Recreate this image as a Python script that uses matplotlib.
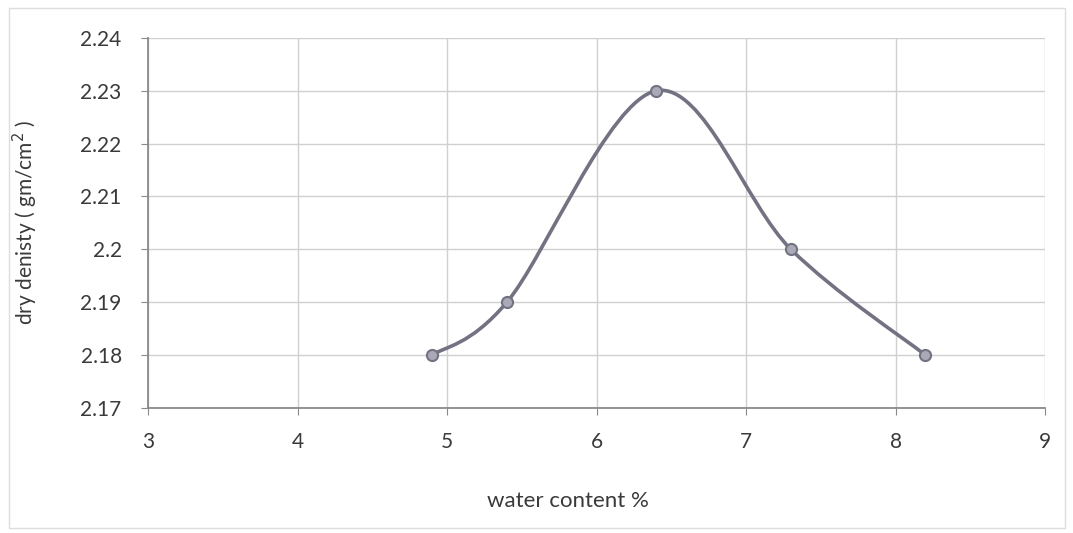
import numpy as np
import matplotlib.pyplot as plt
from matplotlib.path import Path
from matplotlib.patches import PathPatch, Rectangle

# data
water_content = [4.9, 5.4, 6.4, 7.3, 8.2]
dry_density = [2.18, 2.19, 2.23, 2.20, 2.18]
x_ticks = [3, 4, 5, 6, 7, 8, 9]
y_ticks = [2.17, 2.18, 2.19, 2.20, 2.21, 2.22, 2.23, 2.24]
y_tick_labels = ["2.17", "2.18", "2.19", "2.2", "2.21", "2.22", "2.23", "2.24"]

LINE = "#727282"
GRID = "#d0d0d0"
AXIS = "#8a8a8a"
TEXT = "#3a3a3a"

plt.rcParams["font.family"] = ["Lato", "DejaVu Sans"]


def smooth_path(xs, ys):
    """Excel-like smoothed line: Catmull-Rom segments as cubic Beziers."""
    pts = np.column_stack([xs, ys]).astype(float)
    padded = np.vstack([pts[0], pts, pts[-1]])
    verts = [pts[0]]
    codes = [Path.MOVETO]
    for i in range(len(pts) - 1):
        p0, p1, p2, p3 = padded[i], padded[i + 1], padded[i + 2], padded[i + 3]
        c1 = p1 + (p2 - p0) / 6.0
        c2 = p2 - (p3 - p1) / 6.0
        verts += [c1, c2, p2]
        codes += [Path.CURVE4] * 3
    return Path(verts, codes)


fig = plt.figure(figsize=(10.73, 5.33), dpi=100)
ax = fig.add_axes([0.138, 0.2345, 0.836, 0.6945])

ax.set_xlim(3, 9)
ax.set_ylim(2.17, 2.24)
ax.set_xticks(x_ticks)
ax.set_yticks(y_ticks)
ax.set_yticklabels(y_tick_labels)

ax.grid(True, color=GRID, linewidth=1.0)
ax.set_axisbelow(True)
for side in ["top", "right"]:
    ax.spines[side].set_visible(False)
for side in ["left", "bottom"]:
    ax.spines[side].set_color(AXIS)
    ax.spines[side].set_linewidth(1.3)
ax.tick_params(axis="both", colors=AXIS, length=5, labelsize=15, labelcolor=TEXT)
ax.tick_params(axis="y", pad=14)
ax.tick_params(axis="x", pad=12)

ax.add_patch(PathPatch(smooth_path(water_content, dry_density), facecolor="none",
                       edgecolor=LINE, linewidth=2.6, zorder=3))
ax.plot(water_content, dry_density, linestyle="none", marker="o", markersize=8,
        markerfacecolor="#a9a9b8", markeredgecolor=LINE, markeredgewidth=1.5, zorder=4)

ax.set_xlabel("water content %", fontsize=16, color=TEXT)
ax.xaxis.set_label_coords(0.468, -0.225)
ax.set_ylabel("dry denisty ( gm/cm$^2$ )", fontsize=15, color=TEXT)
ax.yaxis.set_label_coords(-0.12, 0.5)

# faint chart-area border like the source
fig.patches.append(Rectangle((0.008, 0.01), 0.985, 0.975, transform=fig.transFigure,
                             fill=False, edgecolor="#dddddd", linewidth=1.0))

fig.savefig("out.png", dpi=100)
